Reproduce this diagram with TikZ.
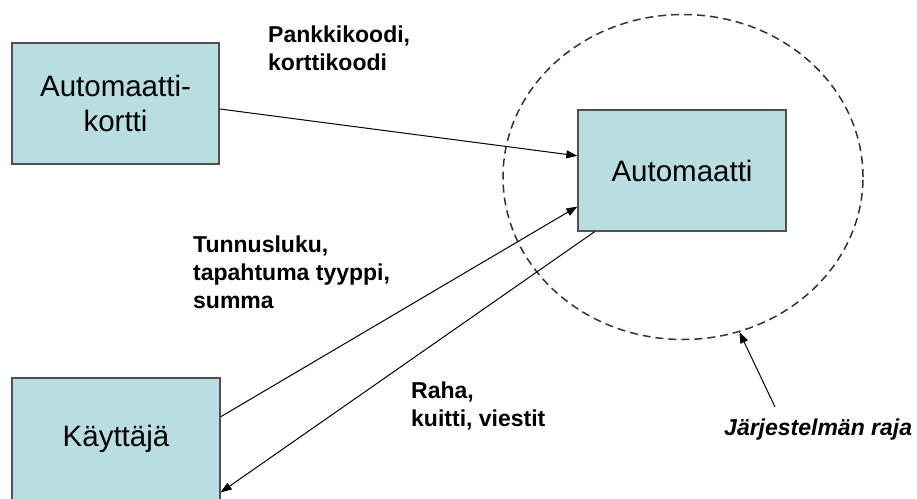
\documentclass[tikz,border=0pt]{standalone}
\usepackage{fontspec}
\setmainfont{Liberation Sans}
\usetikzlibrary{arrows.meta,shapes.geometric}
\definecolor{boxfill}{RGB}{185,222,226}
\definecolor{boxline}{RGB}{80,80,80}
\definecolor{dashline}{RGB}{50,50,50}
\begin{document}
\begin{tikzpicture}[x=1pt,y=-1pt,
  entity/.style={draw=boxline, line width=1.4pt, fill=boxfill, rectangle,
    align=center, inner sep=0pt, font=\fontsize{29.5}{35}\selectfont},
  flow/.style={draw=black, line width=1pt,
    -{Triangle[length=11pt,width=8pt]}},
  flowlabel/.style={anchor=north west, inner sep=0pt, align=left,
    font=\fontsize{23}{28}\selectfont\bfseries},
  boundary/.style={draw=dashline, line width=1.5pt, dash pattern=on 8pt off 5pt,
    ellipse, inner sep=0pt}]
  % page area
  \fill[white] (0,0) rectangle (917,498);
  \useasboundingbox (0,0) rectangle (917,498);

  % system boundary
  \node[boundary, minimum width=360pt, minimum height=325pt] (raja) at (683,177) {};

  % external entities and the system
  \node[entity, minimum width=207pt, minimum height=121pt] (kortti) at (115.5,103.5) {Automaatti-\\kortti};
  \node[entity, minimum width=208pt, minimum height=121pt] (automaatti) at (682,170.5) {Automaatti};
  \node[entity, minimum width=208pt, minimum height=122pt] (kayttaja) at (116,439) {Käyttäjä};

  % data flows
  \draw[flow] (kortti.-3.6) -- (automaatti.172.6);
  \draw[flow] (kayttaja.12.5) -- (automaatti.199.3);
  \draw[flow] (automaatti.215.4) -- (kayttaja.-27);

  % flow labels
  \node[flowlabel] (lblkortti) at (268,26) {Pankkikoodi,\\korttikoodi};
  \node[flowlabel] (lbltunnus) at (193,235.5) {Tunnusluku,\\tapahtuma tyyppi,\\summa};
  \node[flowlabel] (lblraha) at (411,382) {Raha,\\kuitti, viestit};

  % boundary caption
  \node[flowlabel, font=\fontsize{23}{28}\selectfont\bfseries\itshape] (lblraja) at (724,418.5) {Järjestelmän raja};
  \coordinate (rajatail) at (775,407);
  \draw[flow] (rajatail) -- (raja.-70.1);
\end{tikzpicture}
\end{document}
